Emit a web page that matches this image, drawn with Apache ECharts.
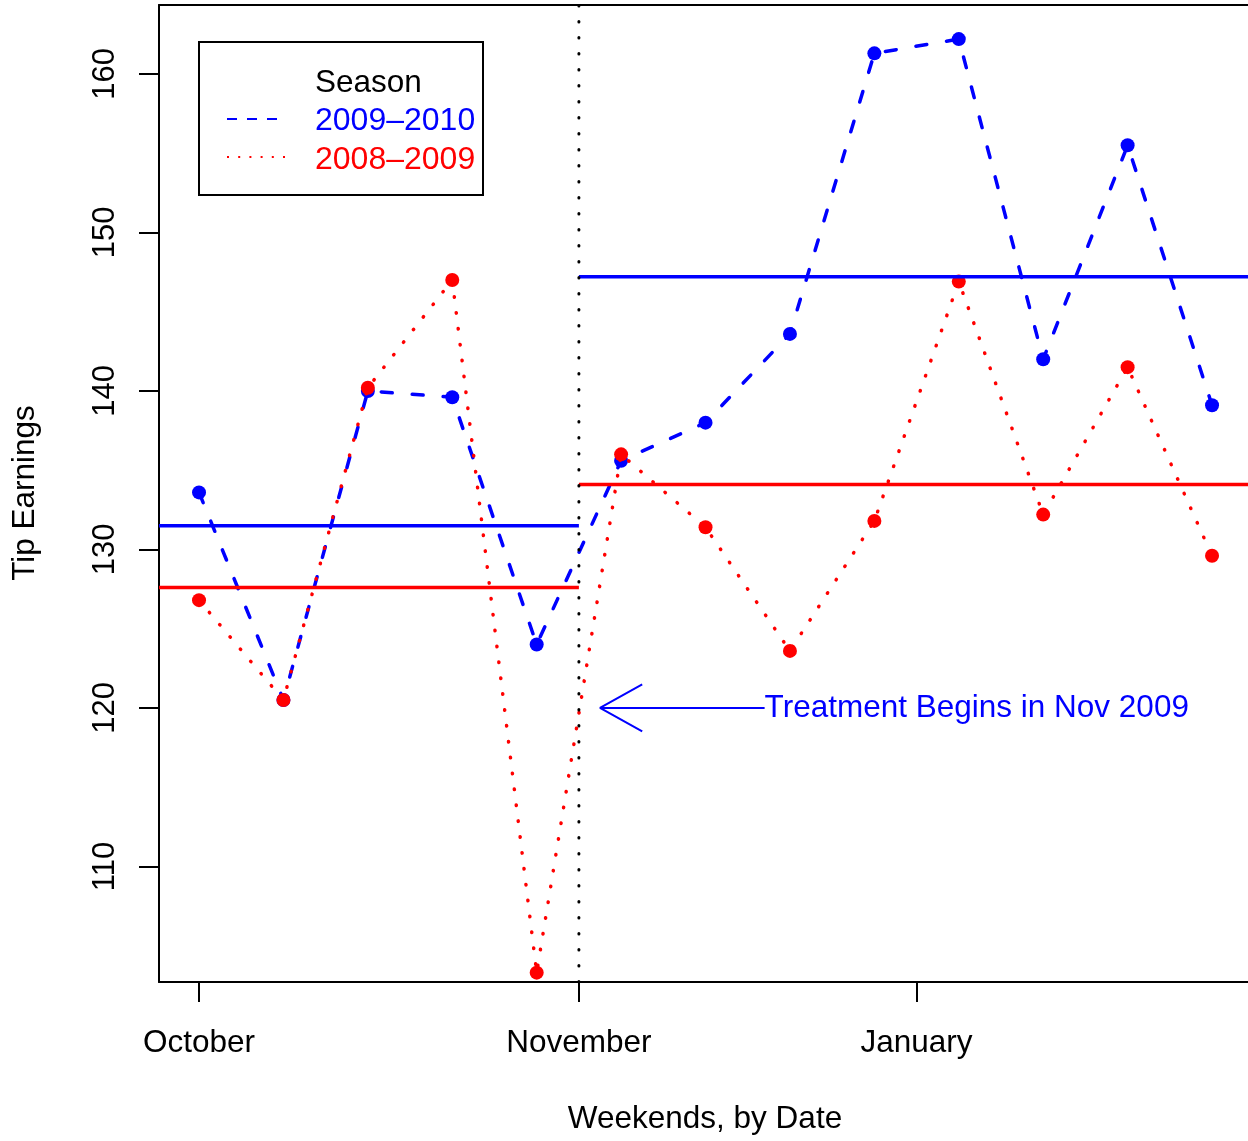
<!DOCTYPE html>
<html>
<head>
<meta charset="utf-8">
<script src="https://cdn.jsdelivr.net/npm/echarts@6/dist/echarts.min.js"></script>
<style>
  html, body { margin: 0; padding: 0; background: #ffffff; }
  #chart { width: 1248px; height: 1141px; }
</style>
</head>
<body>
<div id="chart"></div>
<script>
// Weekend index (1 = first October weekend)
const weeks = [1, 2, 3, 4, 5, 6, 7, 8, 9, 10, 11, 12, 13];
// Tip earnings per weekend, two seasons
const tips2009_2010 = [133.6, 120.5, 140.0, 139.6, 124.0, 135.6, 138.0, 143.6, 161.3, 162.2, 142.0, 155.5, 139.1];
const tips2008_2009 = [126.8, 120.5, 140.2, 147.0, 103.3, 136.0, 131.4, 123.6, 131.8, 146.9, 132.2, 141.5, 129.6];
// Season averages before / after the treatment start
const mean2009_2010 = { before: 131.5, after: 147.2 };
const mean2008_2009 = { before: 127.6, after: 134.1 };
const treatmentWeek = 5.5;
// Axis ticks
const monthTickValues = [1, 5.5, 9.5];
const monthTickLabels = ['October', 'November', 'January'];
const tipTickValues = [110, 120, 130, 140, 150, 160];
// Annotation arrow (data coordinates)
const arrowTip = [5.75, 120];
const arrowTail = [7.7, 120];
const arrowHeadBack = 6.25;
const arrowHeadSpread = 1.48;
const arrowText = 'Treatment Begins in Nov 2009';

// Plot region runs past the right edge of the page
const X_MIN = 0.526, X_MAX = 13.426;
const Y_MIN = 102.71, Y_MAX = 164.35;

const FONT = '"Liberation Sans", Arial, Helvetica, sans-serif';
const BLUE = '#0000ff', RED = '#ff0000';

const chart = echarts.init(document.getElementById('chart'), null, { renderer: 'canvas' });

const pairs = (ys) => weeks.map((w, i) => [w, ys[i]]);
const frameLine = { show: true, onZero: false, lineStyle: { color: '#000', width: 2 } };

const option = {
  animation: false,
  backgroundColor: '#ffffff',
  grid: { left: 159, right: 0, top: 5, bottom: 159, show: false },
  xAxis: [
    {
      type: 'value', min: X_MIN, max: X_MAX, position: 'bottom',
      axisLine: frameLine,
      splitLine: { show: false },
      axisTick: { show: true, customValues: monthTickValues, length: 20, lineStyle: { color: '#000', width: 2 } },
      axisLabel: {
        customValues: monthTickValues, margin: 45,
        fontFamily: FONT, fontSize: 31.5, color: '#000',
        formatter: (v) => monthTickLabels[monthTickValues.indexOf(v)] || ''
      }
    },
    {
      // top edge of the plot frame
      type: 'value', min: X_MIN, max: X_MAX, position: 'top',
      axisLine: frameLine, axisTick: { show: false }, axisLabel: { show: false }, splitLine: { show: false }
    }
  ],
  yAxis: {
    type: 'value', min: Y_MIN, max: Y_MAX,
    axisLine: frameLine,
    splitLine: { show: false },
    axisTick: { show: true, customValues: tipTickValues, length: 20, lineStyle: { color: '#000', width: 2 } },
    axisLabel: {
      customValues: tipTickValues, margin: 38, rotate: 90,
      fontFamily: FONT, fontSize: 31, color: '#000'
    }
  },
  series: [
    {
      name: '2009–2010', type: 'line', data: pairs(tips2009_2010),
      symbol: 'circle', symbolSize: 14, showSymbol: true,
      itemStyle: { color: BLUE },
      lineStyle: { color: BLUE, width: 3.5, type: [11, 20], cap: 'round' },
      z: 3
    },
    {
      name: '2008–2009', type: 'line', data: pairs(tips2008_2009),
      symbol: 'circle', symbolSize: 14, showSymbol: true,
      itemStyle: { color: RED },
      lineStyle: { color: RED, width: 3.5, type: [0.5, 15.5], cap: 'round' },
      z: 4
    },
    {
      type: 'line', data: [[X_MIN, mean2009_2010.before], [treatmentWeek, mean2009_2010.before]],
      symbol: 'none', lineStyle: { color: BLUE, width: 3.5 }, z: 5, silent: true
    },
    {
      type: 'line', data: [[treatmentWeek, mean2009_2010.after], [X_MAX, mean2009_2010.after]],
      symbol: 'none', lineStyle: { color: BLUE, width: 3.5 }, z: 5, silent: true
    },
    {
      type: 'line', data: [[X_MIN, mean2008_2009.before], [treatmentWeek, mean2008_2009.before]],
      symbol: 'none', lineStyle: { color: RED, width: 3.5 }, z: 5, silent: true
    },
    {
      type: 'line', data: [[treatmentWeek, mean2008_2009.after], [X_MAX, mean2008_2009.after]],
      symbol: 'none', lineStyle: { color: RED, width: 3.5 }, z: 5, silent: true
    },
    {
      // treatment start marker
      type: 'line', data: [[treatmentWeek, Y_MIN], [treatmentWeek, Y_MAX]],
      symbol: 'none', lineStyle: { color: '#000', width: 3, type: [0.5, 15.5], cap: 'round' }, z: 6, silent: true
    },
    {
      // arrow shaft
      type: 'line', data: [arrowTail, arrowTip],
      symbol: 'none', lineStyle: { color: BLUE, width: 2 }, z: 6, silent: true
    },
    {
      // arrow head
      type: 'line',
      data: [[arrowHeadBack, arrowTip[1] + arrowHeadSpread], arrowTip, [arrowHeadBack, arrowTip[1] - arrowHeadSpread]],
      symbol: 'none', lineStyle: { color: BLUE, width: 2 }, z: 6, silent: true
    },
    {
      type: 'scatter', data: [arrowTail], symbolSize: 0, silent: true, z: 7,
      itemStyle: { opacity: 1 },
      label: {
        show: true, position: 'right', distance: 0,
        formatter: arrowText, fontFamily: FONT, fontSize: 31.5, color: BLUE
      }
    }
  ],
  graphic: [
    {
      type: 'text', x: 25, y: 493, rotation: Math.PI / 2,
      style: { text: 'Tip Earnings', font: '31.5px ' + FONT, fill: '#000', textAlign: 'center', textVerticalAlign: 'middle' }
    },
    {
      type: 'text', x: 705, y: 1119,
      style: { text: 'Weekends, by Date', font: '31.5px ' + FONT, fill: '#000', textAlign: 'center', textVerticalAlign: 'middle' }
    },
    // legend box
    {
      type: 'group', z: 20,
      children: [
        { type: 'rect', shape: { x: 199, y: 42, width: 284, height: 153 }, style: { fill: '#fff', stroke: '#000', lineWidth: 2 } },
        { type: 'text', x: 315, y: 83, style: { text: 'Season', font: '31.5px ' + FONT, fill: '#000', textAlign: 'left', textVerticalAlign: 'middle' } },
        { type: 'line', shape: { x1: 227, y1: 119, x2: 283, y2: 119 }, style: { stroke: BLUE, lineWidth: 2, lineDash: [10, 10] } },
        { type: 'text', x: 315, y: 121, style: { text: '2009–2010', font: '32px ' + FONT, fill: BLUE, textAlign: 'left', textVerticalAlign: 'middle' } },
        { type: 'line', shape: { x1: 227, y1: 157, x2: 285, y2: 157 }, style: { stroke: RED, lineWidth: 2, lineDash: [2, 9.2] } },
        { type: 'text', x: 315, y: 160, style: { text: '2008–2009', font: '32px ' + FONT, fill: RED, textAlign: 'left', textVerticalAlign: 'middle' } }
      ]
    }
  ]
};

chart.setOption(option);
</script>
</body>
</html>
